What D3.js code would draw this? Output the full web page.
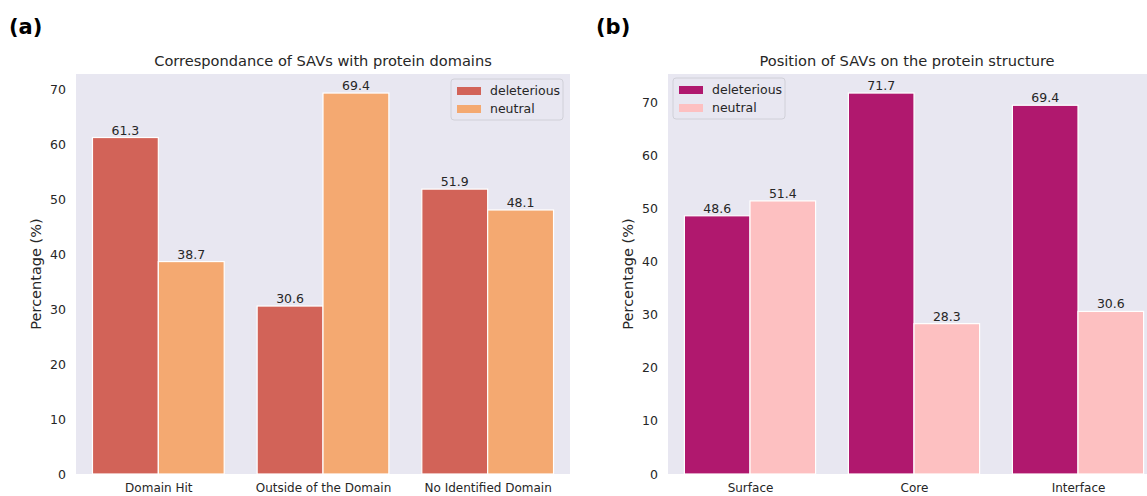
<!DOCTYPE html>
<html>
<head>
<meta charset="utf-8">
<script src="https://cdn.jsdelivr.net/npm/d3@7"></script>
<style>
  html, body { margin: 0; padding: 0; background: #ffffff; }
  svg { display: block; }
  text { font-family: "DejaVu Sans", sans-serif; fill: #262626; }
</style>
</head>
<body>
<svg id="chart" width="1147" height="496"></svg>
<script>
// ---- Data ----
const seriesNames = ["deleterious", "neutral"];

const domainCategories = ["Domain Hit", "Outside of the Domain", "No Identified Domain"];
const domainDeleterious = [61.3, 30.6, 51.9];
const domainNeutral = [38.7, 69.4, 48.1];

const structCategories = ["Surface", "Core", "Interface"];
const structDeleterious = [48.6, 71.7, 69.4];
const structNeutral = [51.4, 28.3, 30.6];

const yTicks = [0, 10, 20, 30, 40, 50, 60, 70];

const panelLetters = ["(a)", "(b)"];
const panelTitles = ["Correspondance of SAVs with protein domains", "Position of SAVs on the protein structure"];
const yLabel = "Percentage (%)";

// ---- Drawing ----
const svg = d3.select("#chart");

function drawPanel(cfg) {
  const g = svg.append("g");
  const maxV = d3.max(cfg.del.concat(cfg.neu));
  const y = d3.scaleLinear().domain([0, maxV * 1.05]).range([cfg.bottom, cfg.top]);
  const x = d3.scaleLinear().domain([-0.5, cfg.cats.length - 0.5]).range([cfg.left, cfg.right]);

  // background
  g.append("rect")
    .attr("x", cfg.left).attr("y", cfg.top)
    .attr("width", cfg.right - cfg.left).attr("height", cfg.bottom - cfg.top)
    .attr("fill", "#e8e7f1");

  const data = [];
  cfg.cats.forEach((c, i) => {
    data.push({ i, off: -0.4, v: cfg.del[i], color: cfg.colors[0] });
    data.push({ i, off: 0, v: cfg.neu[i], color: cfg.colors[1] });
  });

  g.selectAll("rect.bar").data(data).enter().append("rect")
    .attr("class", "bar")
    .attr("x", d => x(d.i + d.off))
    .attr("width", d => x(d.i + d.off + 0.4) - x(d.i + d.off))
    .attr("y", d => y(d.v))
    .attr("height", d => y(0) - y(d.v))
    .attr("fill", d => d.color)
    .attr("stroke", "#ffffff")
    .attr("stroke-width", 1.2);

  g.selectAll("text.val").data(data).enter().append("text")
    .attr("class", "val")
    .attr("x", d => x(d.i + d.off + 0.2))
    .attr("y", d => y(d.v) - 3)
    .attr("text-anchor", "middle")
    .attr("font-size", 12.5)
    .text(d => d.v.toFixed(1));

  // y axis
  const yAxis = d3.axisLeft(y).tickValues(yTicks).tickSize(0).tickPadding(10).tickFormat(d3.format("d"));
  const ya = g.append("g").attr("transform", `translate(${cfg.left},0)`).call(yAxis);
  ya.select(".domain").remove();
  ya.selectAll("text").attr("font-size", 12.5).attr("fill", "#262626").attr("font-family", "DejaVu Sans, sans-serif");

  // x axis
  const xAxis = d3.axisBottom(x).tickValues(d3.range(cfg.cats.length)).tickSize(0).tickPadding(9)
    .tickFormat(i => cfg.cats[i]);
  const xa = g.append("g").attr("transform", `translate(0,${cfg.bottom})`).call(xAxis);
  xa.select(".domain").remove();
  xa.selectAll("text").attr("font-size", 12).attr("fill", "#262626").attr("font-family", "DejaVu Sans, sans-serif");

  // title
  g.append("text")
    .attr("x", (cfg.left + cfg.right) / 2 - cfg.titleShift)
    .attr("y", cfg.top - 8)
    .attr("text-anchor", "middle")
    .attr("font-size", 14.6)
    .text(cfg.title);

  // y label
  g.append("text")
    .attr("transform", `translate(${cfg.left - 35},${(cfg.top + cfg.bottom) / 2}) rotate(-90)`)
    .attr("text-anchor", "middle")
    .attr("font-size", 14.5)
    .text(yLabel);

  // panel letter
  g.append("text")
    .attr("x", cfg.letterX).attr("y", 34)
    .attr("font-family", "Liberation Sans, Arial, sans-serif")
    .attr("font-weight", "bold")
    .attr("font-size", 21)
    .style("fill", "#000")
    .text(cfg.letter);

  // legend
  const lg = g.append("g").attr("transform", `translate(${cfg.legX},${cfg.legY})`);
  lg.append("rect").attr("width", 112).attr("height", 41).attr("rx", 3)
    .attr("fill", "#e8e7f1").attr("stroke", "#d0d0d8").attr("stroke-width", 1);
  seriesNames.forEach((s, k) => {
    lg.append("rect").attr("x", 6).attr("y", 8 + k * 18).attr("width", 24).attr("height", 8)
      .attr("fill", cfg.colors[k]);
    lg.append("text").attr("x", 39).attr("y", 16 + k * 18).attr("font-size", 12.5).text(s);
  });
}

drawPanel({
  cats: domainCategories, del: domainDeleterious, neu: domainNeutral,
  colors: ["#d26358", "#f4a971"],
  left: 76, right: 570, top: 74, bottom: 474,
  title: panelTitles[0], titleShift: 0, letter: panelLetters[0], letterX: 9,
  legX: 451, legY: 79
});

drawPanel({
  cats: structCategories, del: structDeleterious, neu: structNeutral,
  colors: ["#b0186e", "#fdc0c1"],
  left: 668, right: 1160, top: 74, bottom: 474,
  title: panelTitles[1], titleShift: 7, letter: panelLetters[1], letterX: 596,
  legX: 673, legY: 78
});
</script>
</body>
</html>
